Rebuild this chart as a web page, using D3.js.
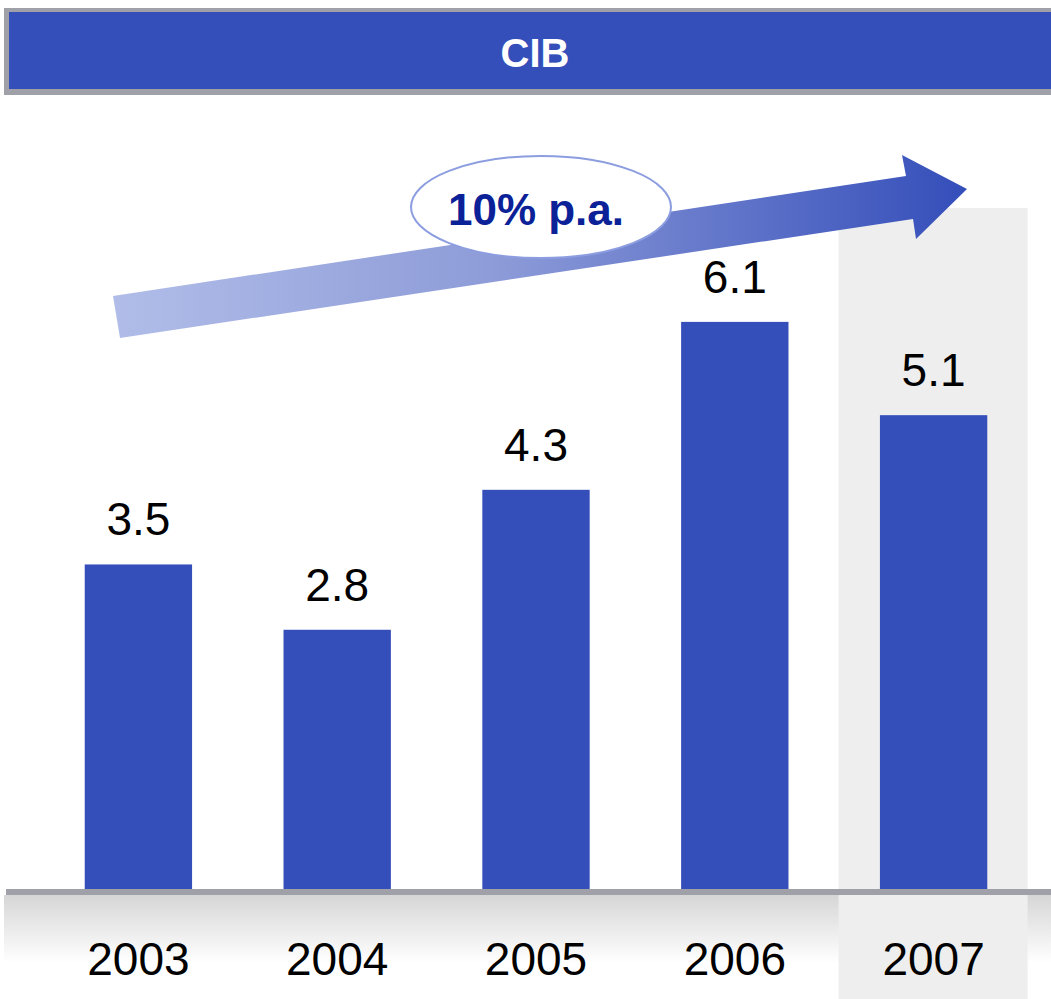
<!DOCTYPE html>
<html lang="en">
  <head>
    <meta charset="utf-8">
    <title>CIB</title>
    <script src="https://cdn.jsdelivr.net/npm/d3@7"></script>
    <style>
      body { margin: 0; background: white; }
      text { font-family: "Liberation Sans", Arial, sans-serif; }
    </style>
  </head>
  <body>
    <script>
      var years = ["2003", "2004", "2005", "2006", "2007"];
      var values = [3.5, 2.8, 4.3, 6.1, 5.1];
      var labels = ["3.5", "2.8", "4.3", "6.1", "5.1"];
      var title = "CIB";
      var growthLabel = "10% p.a.";
      var highlightYear = "2007";

      var width = 1051, height = 999;
      var baseY = 891;
      var blue = "#344eba";

      var svg = d3.select("body").append("svg")
                  .attr("width", width)
                  .attr("height", height);

      var defs = svg.append("defs");
      var arrowGrad = defs.append("linearGradient")
                          .attr("id", "arrowGrad")
                          .attr("x1", "0%").attr("x2", "100%")
                          .attr("y1", "0%").attr("y2", "0%");
      arrowGrad.append("stop").attr("offset", "0%").attr("stop-color", "#b1bde8");
      arrowGrad.append("stop").attr("offset", "45%").attr("stop-color", "#8d9bd8");
      arrowGrad.append("stop").attr("offset", "100%").attr("stop-color", blue);

      var floorGrad = defs.append("linearGradient")
                          .attr("id", "floorGrad")
                          .attr("x1", "0%").attr("x2", "0%")
                          .attr("y1", "0%").attr("y2", "100%");
      floorGrad.append("stop").attr("offset", "0%").attr("stop-color", "#d6d6d6");
      floorGrad.append("stop").attr("offset", "65%").attr("stop-color", "#ffffff");
      floorGrad.append("stop").attr("offset", "100%").attr("stop-color", "#ffffff");

      var x = d3.scaleBand()
                .domain(years)
                .range([39, 1033])
                .paddingInner(0.46)
                .paddingOuter(0.23);

      var y = d3.scaleLinear()
                .domain([0, 9.55])
                .range([baseY, 0]);

      // header bar
      svg.append("rect")
         .attr("x", 4).attr("y", 8)
         .attr("width", width).attr("height", 87)
         .attr("fill", "#a0a0a8");
      svg.append("rect")
         .attr("x", 9).attr("y", 12)
         .attr("width", width).attr("height", 77)
         .attr("fill", blue);
      svg.append("text")
         .attr("x", 535).attr("y", 67)
         .attr("text-anchor", "middle")
         .attr("fill", "white")
         .attr("font-weight", "bold")
         .attr("font-size", 40)
         .text(title);

      // floor gradient under the axis
      svg.append("rect")
         .attr("x", 4).attr("y", 895)
         .attr("width", width).attr("height", 104)
         .attr("fill", "url(#floorGrad)");

      // highlighted year column
      var step = x.step();
      svg.append("rect")
         .attr("x", x(highlightYear) + x.bandwidth() / 2 - 95)
         .attr("y", 208)
         .attr("width", 189)
         .attr("height", height - 208)
         .attr("fill", "#eeeeee");

      // growth arrow
      var arrowPts = [[113, 296], [906, 176], [902, 155], [967, 189], [916, 239], [913, 219], [120, 338]];
      svg.append("path")
         .attr("d", d3.line()(arrowPts) + "Z")
         .attr("fill", "url(#arrowGrad)");

      svg.append("ellipse")
         .attr("cx", 541).attr("cy", 207)
         .attr("rx", 130).attr("ry", 51)
         .attr("fill", "white")
         .attr("stroke", "#8c9de0")
         .attr("stroke-width", 2);
      svg.append("text")
         .attr("x", 536).attr("y", 225)
         .attr("text-anchor", "middle")
         .attr("fill", "#0b2197")
         .attr("font-weight", "bold")
         .attr("font-size", 44)
         .text(growthLabel);

      // bars
      svg.append("g")
         .selectAll("rect")
         .data(values)
         .enter()
         .append("rect")
           .attr("x", (d, i) => x(years[i]))
           .attr("y", d => y(d))
           .attr("width", x.bandwidth())
           .attr("height", d => baseY - y(d))
           .attr("fill", blue);

      svg.append("g")
         .selectAll("text")
         .data(values)
         .enter()
         .append("text")
           .attr("x", (d, i) => x(years[i]) + x.bandwidth() / 2)
           .attr("y", d => y(d) - 29)
           .attr("text-anchor", "middle")
           .attr("font-size", 46)
           .attr("fill", "#000")
           .text((d, i) => labels[i]);

      // axis line
      svg.append("rect")
         .attr("x", 6).attr("y", 889)
         .attr("width", width).attr("height", 6)
         .attr("fill", "#a0a0a8");

      // year labels
      var axis = d3.axisBottom(x).tickSize(0).tickPadding(0);
      var ax = svg.append("g")
                  .attr("transform", "translate(0,975)")
                  .call(axis);
      ax.select(".domain").remove();
      ax.selectAll("text")
        .attr("dy", 0)
        .attr("y", 0)
        .attr("font-size", 46)
        .attr("font-family", "Liberation Sans, Arial, sans-serif")
        .attr("fill", "#000");
    </script>
  </body>
</html>
